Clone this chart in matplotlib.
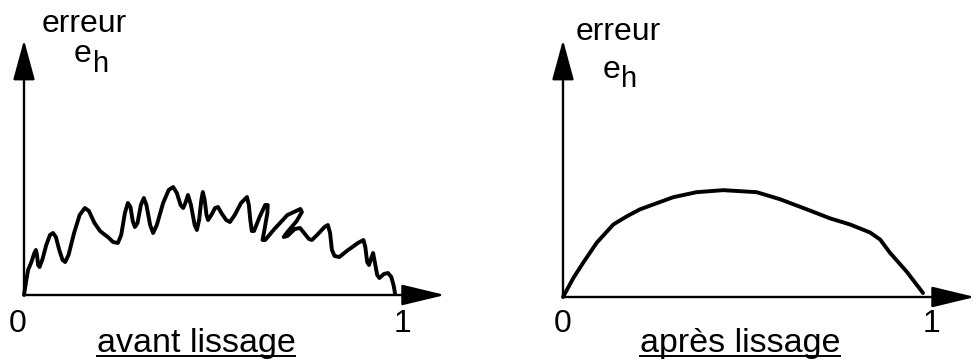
"""Erreur e_h avant / après lissage (schéma)."""
import matplotlib
matplotlib.use("Agg")
import matplotlib.pyplot as plt
from matplotlib.lines import Line2D

plt.rcParams["font.family"] = ["Liberation Sans", "DejaVu Sans"]

# error before smoothing (x in [0, 1], e_h in arbitrary units), traced by hand
avant_x = [0.000, 0.005, 0.011, 0.020, 0.028, 0.032, 0.035, 0.038, 0.042, 0.050,
           0.060, 0.070, 0.078, 0.086, 0.095, 0.104, 0.111, 0.120, 0.135, 0.150,
           0.164, 0.175, 0.190, 0.205, 0.215, 0.226, 0.240, 0.253, 0.262, 0.272,
           0.280, 0.287, 0.293, 0.299, 0.306, 0.315, 0.323, 0.330, 0.340, 0.348,
           0.358, 0.375, 0.390, 0.402, 0.412, 0.422, 0.429, 0.435, 0.442, 0.450,
           0.460, 0.466, 0.472, 0.478, 0.482, 0.487, 0.492, 0.496, 0.505, 0.515,
           0.523, 0.532, 0.545, 0.555, 0.568, 0.585, 0.601, 0.606, 0.610, 0.614,
           0.620, 0.635, 0.650, 0.657, 0.656, 0.648, 0.643, 0.650, 0.675, 0.710,
           0.745, 0.749, 0.735, 0.710, 0.700, 0.710, 0.730, 0.744, 0.755, 0.768,
           0.776, 0.790, 0.810, 0.819, 0.825, 0.830, 0.837, 0.850, 0.870, 0.900,
           0.915, 0.920, 0.925, 0.930, 0.937, 0.941, 0.946, 0.952, 0.958, 0.970,
           0.981, 0.990, 0.996, 0.999, 1.000]
avant_y = [0.00, 0.12, 0.25, 0.33, 0.42, 0.45, 0.40, 0.30, 0.28, 0.36,
           0.50, 0.60, 0.62, 0.58, 0.45, 0.35, 0.33, 0.40, 0.62, 0.80,
           0.87, 0.84, 0.72, 0.64, 0.61, 0.58, 0.53, 0.52, 0.60, 0.82,
           0.92, 0.88, 0.74, 0.68, 0.72, 0.90, 0.97, 0.90, 0.70, 0.62,
           0.70, 0.92, 1.05, 1.08, 1.02, 0.90, 0.87, 0.92, 1.00, 0.90,
           0.70, 0.65, 0.75, 0.95, 1.03, 0.95, 0.80, 0.75, 0.80, 0.87,
           0.88, 0.82, 0.75, 0.73, 0.80, 0.92, 0.98, 0.90, 0.75, 0.64,
           0.64, 0.78, 0.90, 0.90, 0.82, 0.65, 0.55, 0.55, 0.66, 0.80,
           0.86, 0.83, 0.74, 0.63, 0.58, 0.59, 0.66, 0.67, 0.62, 0.56,
           0.55, 0.60, 0.68, 0.70, 0.62, 0.45, 0.39, 0.38, 0.44, 0.52,
           0.55, 0.48, 0.33, 0.30, 0.38, 0.42, 0.32, 0.20, 0.17, 0.21,
           0.22, 0.18, 0.10, 0.04, 0.01]

# error after smoothing
apres_x = [0.0, 0.029, 0.056, 0.094, 0.140, 0.177, 0.214, 0.260, 0.306, 0.371,
           0.445, 0.492, 0.538, 0.603, 0.677, 0.742, 0.797, 0.853, 0.881, 0.908,
           0.955, 1.0]
apres_y = [0.0, 0.19, 0.34, 0.54, 0.72, 0.80, 0.87, 0.93, 0.99, 1.04,
           1.06, 1.05, 1.04, 0.97, 0.87, 0.78, 0.72, 0.64, 0.57, 0.44,
           0.25, 0.04]

titles = ["avant lissage", "après lissage"]

W, H = 979, 362
FS = 23


def px(x, y):
    return x / W, 1 - y / H


def draw_panel(fig, left, bottom, xmax, xs, ys):
    # left: pixel x of origin and of arrow tip, bottom: pixel y of the x axis
    x0, y0 = px(left[0], bottom)
    x1, y1 = px(left[1], 40)
    ax = fig.add_axes([x0, y0, x1 - x0, y1 - y0])
    ax.set_xlim(0, xmax)
    ax.set_ylim(0, 2.55)
    ax.axis("off")
    ax.plot(xs, ys, color="black", lw=2.8, solid_joinstyle="round",
            solid_capstyle="round", clip_on=False)
    head_x = dict(arrowstyle="-|>,head_length=2.7,head_width=0.65",
                  mutation_scale=10, lw=1.7, color="black",
                  shrinkA=0, shrinkB=0)
    ax.annotate("", xy=(1, 0), xytext=(0, 0), xycoords="axes fraction",
                arrowprops=head_x)
    ax.annotate("", xy=(0, 1), xytext=(0, 0), xycoords="axes fraction",
                arrowprops=dict(head_x, arrowstyle="-|>,head_length=2.5,head_width=0.68"))
    return ax


fig = plt.figure(figsize=(W / 100, H / 100), dpi=100)

draw_panel(fig, (24, 445), 295, 421 / 371, avant_x, avant_y)
draw_panel(fig, (563, 975), 297, 412 / 360, apres_x, apres_y)

labels = []
for (xe, be), (xs, bs), (xh, bh), (x0l, x1l), (xt, title) in [
    ((84, 32), (83, 62), (101, 72), (18, 403), (196, titles[0])),
    ((618, 40), (612, 78), (629, 87), (563, 932), (740, titles[1])),
]:
    fig.text(*px(xe, be), "erreur", fontsize=FS, ha="center", va="baseline")
    fig.text(*px(xs, bs), "e", fontsize=FS, ha="center", va="baseline")
    fig.text(*px(xh, bh), "h", fontsize=FS - 2, ha="center", va="baseline")
    fig.text(*px(x0l, 332), "0", fontsize=FS, ha="center", va="baseline")
    fig.text(*px(x1l, 332), "1", fontsize=FS, ha="center", va="baseline")
    labels.append(fig.text(*px(xt, 352), title, fontsize=FS + 1.5,
                           ha="center", va="baseline"))

# underline the two captions
fig.canvas.draw()
r = fig.canvas.get_renderer()
for t in labels:
    bb = t.get_window_extent(r)
    yl = 1 - 355.5 / H
    fig.add_artist(Line2D([bb.x0 / W, bb.x1 / W], [yl, yl], color="black",
                          lw=1.4, transform=fig.transFigure))

fig.savefig("out.png", dpi=100)
